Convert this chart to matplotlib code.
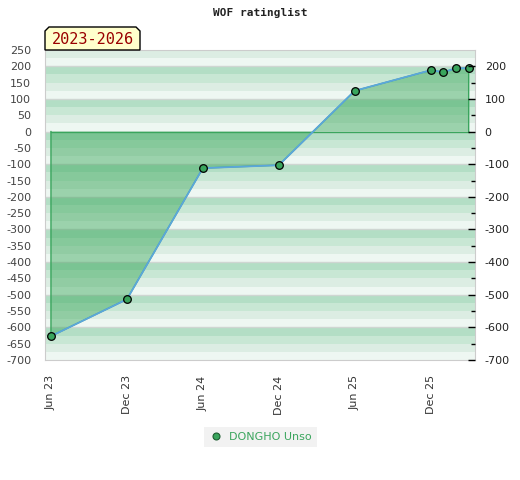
import numpy as np
import pandas as pd
import matplotlib
matplotlib.use("Agg")
import matplotlib.pyplot as plt
from matplotlib.lines import Line2D
from matplotlib.patches import Polygon

plt.rcParams['axes.unicode_minus'] = False

# data
dates = ['2023-06', '2023-12', '2024-06', '2024-12', '2025-06',
         '2025-12', '2026-01', '2026-02', '2026-03']
rating = [-627, -514, -112, -103, 125, 188, 182, 194, 194]
tick_dates = ['2023-06', '2023-12', '2024-06', '2024-12', '2025-06', '2025-12']
tick_labels = ['Jun 23', 'Dec 23', 'Jun 24', 'Dec 24', 'Jun 25', 'Dec 25']
player = 'DONGHO Unso'
period = '2023-2026'


def month_index(s):
    p = pd.Period(s, freq='M')
    return (p.year - 2023) * 12 + p.month - 6


x = np.array([month_index(d) for d in dates])
y = np.array(rating)
xt = [month_index(d) for d in tick_dates]

W, H = 520, 480
fig = plt.figure(figsize=(W / 100, H / 100), dpi=100)
ax = fig.add_axes([45 / W, 1 - 360 / H, 430 / W, 310 / H])

ymin, ymax = -700, 250
ax.set_xlim(-0.47, 33.5)
ax.set_ylim(ymin, ymax)

# striped background, 4 shades per 100
shades = ['#b3dec5', '#c8e7d4', '#dcede3', '#eef7f2']
for top in range(300, ymin, -100):
    for i, c in enumerate(shades):
        hi = top - 25 * i
        lo = hi - 25
        if hi > ymax:
            hi = ymax
        if lo < ymin or lo >= ymax:
            continue
        ax.axhspan(lo, hi, color=c, lw=0, zorder=0)
for g in range(-600, 250, 100):
    ax.axhline(g, color='#cfd6d2', lw=1, zorder=0.5)

# area to zero
poly_x = np.concatenate([[x[0]], x, [x[-1]]])
poly_y = np.concatenate([[0], y, [0]])
ax.fill(poly_x, poly_y, facecolor='#36a557', alpha=0.45, edgecolor='none', zorder=1)
ax.plot(poly_x, poly_y, color='#3aa55d', lw=1, zorder=1.5)
ax.plot([x[0], x[-1]], [0, 0], color='#3aa55d', lw=1, zorder=1.5)
ax.plot(x, y, color='#5ba6dc', lw=1.3, zorder=2)
ax.plot(x, y, ls='none', marker='o', ms=5.5, mfc='#3aa55d', mec='black',
        mew=0.9, zorder=3)

for s in ax.spines.values():
    s.set_color('#cccccc')
ax.set_yticks(range(-700, 251, 50))
ax.tick_params(axis='y', length=0, pad=10, labelsize=8, labelcolor='#444444')
ax.set_xticks(xt)
ax.set_xticklabels(tick_labels, rotation=90)
ax.tick_params(axis='x', length=0, pad=11, labelsize=8, labelcolor='#333333')

ax2 = ax.twinx()
ax2.set_ylim(ymin, ymax)
ax2.set_yticks(range(-700, 201, 100))
ax2.set_yticks(range(-650, 201, 100), minor=True)
ax2.tick_params(axis='y', which='major', direction='in', length=5, width=1,
                pad=7, labelsize=8, labelcolor='#222222')
ax2.tick_params(axis='y', which='minor', direction='in', length=3, width=1)
for s in ax2.spines.values():
    s.set_visible(False)

fig.text(0.5, 1 - 13 / H, 'WOF ratinglist', ha='center', va='center',
         family='DejaVu Sans Mono', weight='bold', fontsize=8, color='#222222')

# period tab
l, r, t, b, c = 45, 140, 27, 50, 4
pts = [(l, b), (l, t + c), (l + c, t), (r - c, t), (r, t + c), (r, b)]
tab = Polygon([(px / W, 1 - py / H) for px, py in pts], closed=True,
              transform=fig.transFigure, facecolor='#ffffcc', edgecolor='black',
              lw=1, zorder=5)
fig.patches.append(tab)
fig.text((l + r) / 2 / W, 1 - 39.5 / H, period, ha='center', va='center',
         family='DejaVu Sans Mono', fontsize=11, color='#990000', zorder=10)

handle = Line2D([], [], ls='none', marker='o', ms=5, mfc='#3aa55d', mec='#1d5c30',
                mew=0.8)
leg = fig.legend(handles=[handle], labels=[player], loc='center',
                 bbox_to_anchor=(260.5 / W, 1 - 437 / H), frameon=True,
                 fancybox=False, facecolor='#efefef', edgecolor='none',
                 labelcolor='#3aa55d', fontsize=8, handlelength=1.2,
                 handletextpad=0.6, borderpad=0.45)
leg.get_frame().set_linewidth(0)

fig.savefig('out.png', dpi=100)
